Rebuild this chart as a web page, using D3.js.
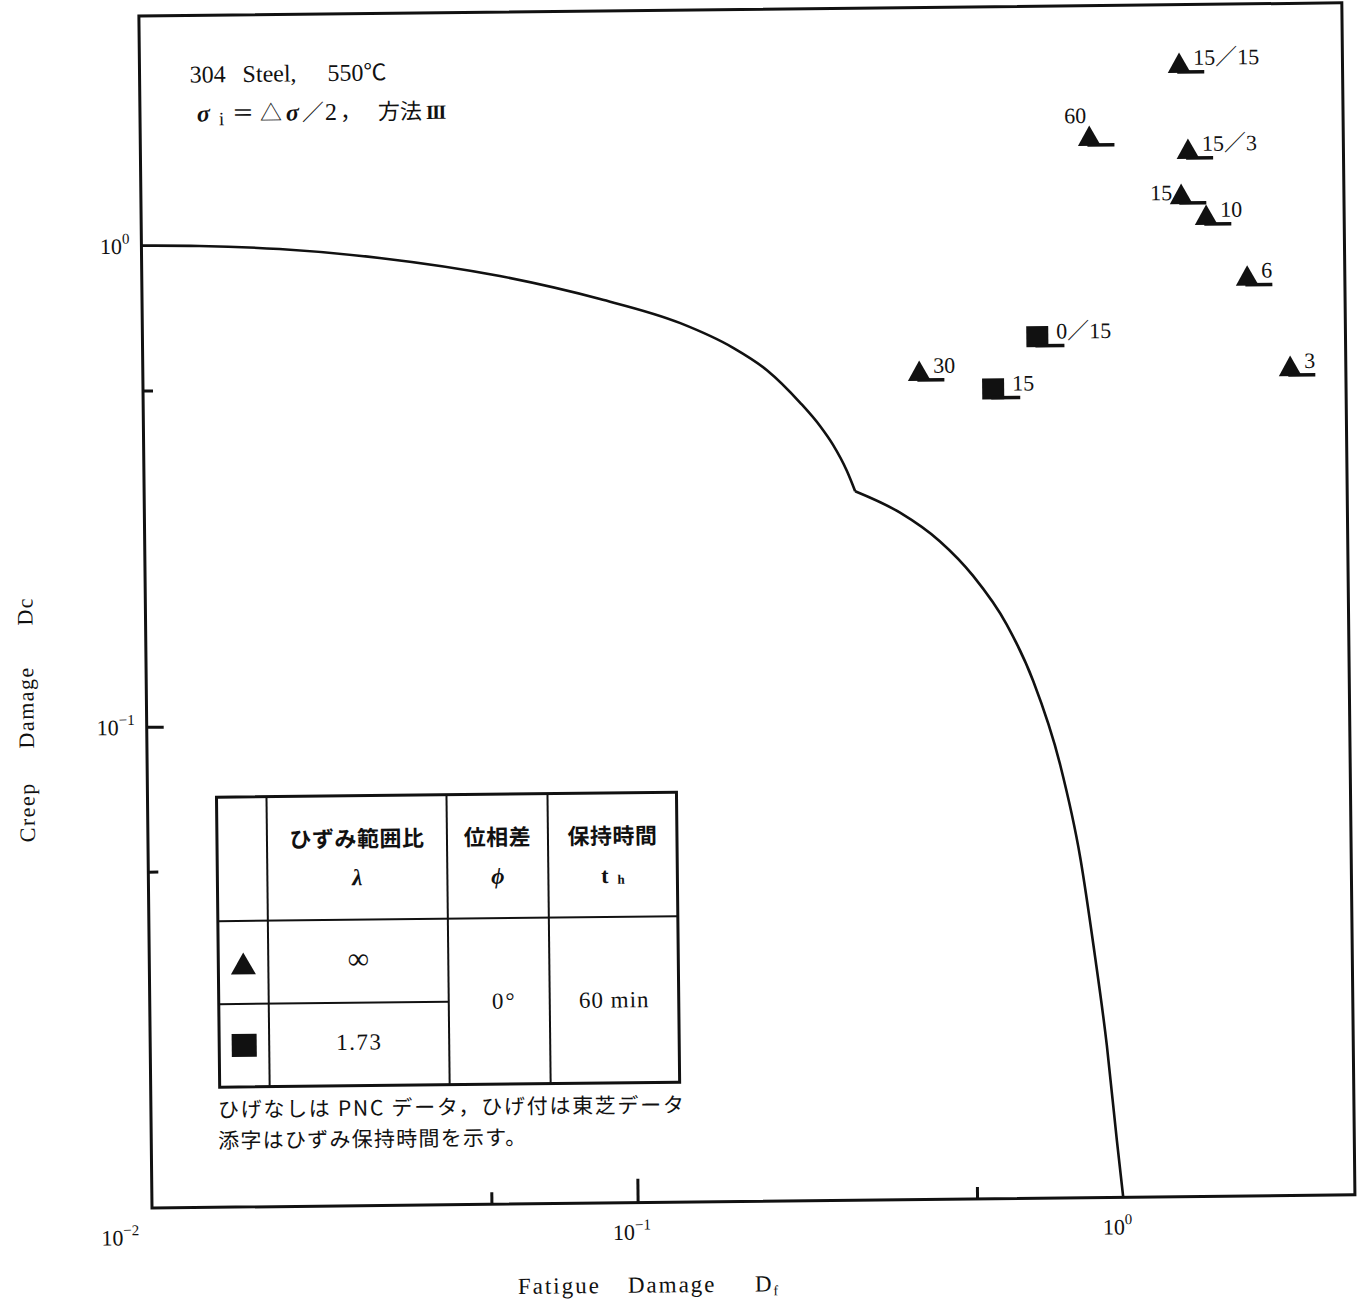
<!DOCTYPE html>
<html>
<head>
<meta charset="utf-8">
<script src="https://cdn.jsdelivr.net/npm/d3@7"></script>
<style>
  body { margin: 0; background: #fff; }
  text { fill: #111; }
</style>
</head>
<body>
<svg id="chart" width="1362" height="1310"></svg>
<script>
// Creep–fatigue damage interaction, 304 steel at 550 °C (log–log)

// Test points: triangles (λ = ∞) and squares (λ = 1.73); label = strain hold time
const triangleLabels  = ["15／15", "60", "15／3", "15", "10", "6", "30", "3"];
const triangleFatigue = [1.383, 0.90, 1.436, 1.387, 1.56, 1.889, 0.397, 2.305];
const triangleCreep   = [2.27, 1.608, 1.503, 1.212, 1.095, 0.817, 0.527, 0.529];
const triangleLabelSide = ["right", "above-left", "right", "left", "right", "right", "right", "right"];

const squareLabels  = ["0／15", "15"];
const squareFatigue = [0.696, 0.563];
const squareCreep   = [0.617, 0.482];
const squareLabelSide = ["right", "right"];

// Design envelope, upper branch (to the knee) and lower branch (from the knee)
const envelopeUpperFatigue = [0.01, 0.01316, 0.01924, 0.03091, 0.05461, 0.08773, 0.1282, 0.1641, 0.1928, 0.2254, 0.2477, 0.2624, 0.2804, 0.2911];
const envelopeUpperCreep   = [1.0, 0.9956, 0.9768, 0.9312, 0.8485, 0.7561, 0.6709, 0.5953, 0.5333, 0.4554, 0.4061, 0.3725, 0.3273, 0.2974];
const envelopeLowerFatigue = [0.2911, 0.3597, 0.4336, 0.5070, 0.5931, 0.6707, 0.7587, 0.8303, 0.8831, 0.9326, 0.9734, 1.0];
const envelopeLowerCreep   = [0.2974, 0.2678, 0.2331, 0.1971, 0.1559, 0.1187, 0.0794, 0.0509, 0.0325, 0.0207, 0.0131, 0.01];

// Axes
const axisDomain = [0.01, 3];
const xMajorTicks = [0.1];
const xMinorTicks = [0.05, 0.5];
const yMajorTicks = [0.1];
const yMinorTicks = [0.05, 0.5];
const xTickValues = [0.01, 0.1, 1];
const xTickBase = ["10", "10", "10"];
const xTickExp  = ["−2", "−1", "0"];
const yTickValues = [1, 0.1];
const yTickBase = ["10", "10"];
const yTickExp  = ["0", "−1"];

// Legend table rows
const legendHeader1 = ["ひずみ範囲比", "位相差", "保持時間"];
const legendRatios = ["∞", "1.73"];
const legendPhase = "0°";
const legendHold = "60 min";

const SERIF = "'Liberation Serif', 'Times New Roman', 'Noto Sans CJK JP', serif";
const CJK = "'Noto Sans CJK JP', 'Liberation Serif', sans-serif";

const box = { left: 152, right: 1355, top: 16, bottom: 1208 };

const x = d3.scaleLog().domain(axisDomain).range([box.left, box.right]);
const y = d3.scaleLog().domain(axisDomain).range([box.bottom, box.top]);

const svg = d3.select("#chart");
// the whole sheet sits at a slight tilt
const root = svg.append("g").attr("transform", `rotate(-0.63, ${box.left}, ${box.bottom})`);

// Frame
root.append("rect")
  .attr("x", box.left).attr("y", box.top)
  .attr("width", box.right - box.left).attr("height", box.bottom - box.top)
  .attr("fill", "none").attr("stroke", "#111").attr("stroke-width", 3);

// Inward ticks
function tickGroup(axis, transform, width) {
  const g = root.append("g").attr("transform", transform).call(axis);
  g.select(".domain").remove();
  g.selectAll(".tick line").attr("stroke", "#111").attr("stroke-width", width);
  g.selectAll(".tick text").remove();
  return g;
}
tickGroup(d3.axisBottom(x).tickValues(xMajorTicks).tickSize(-24), `translate(0,${box.bottom})`, 3);
tickGroup(d3.axisBottom(x).tickValues(xMinorTicks).tickSize(-12), `translate(0,${box.bottom})`, 3);
tickGroup(d3.axisLeft(y).tickValues(yMajorTicks).tickSize(-17), `translate(${box.left},0)`, 3);
tickGroup(d3.axisLeft(y).tickValues(yMinorTicks).tickSize(-10), `translate(${box.left},0)`, 3);

// Tick labels with exponents
function powerLabel(sel, base, exp) {
  sel.append("tspan").text(base);
  sel.append("tspan").attr("font-size", 15).attr("dy", -10).text(exp);
}
xTickValues.forEach((v, i) => {
  const shift = v === axisDomain[0] ? -32 : -6;
  const t = root.append("text")
    .attr("x", x(v) + shift).attr("y", 1245)
    .attr("text-anchor", "middle")
    .attr("font-family", SERIF).attr("font-size", 22);
  powerLabel(t, xTickBase[i], xTickExp[i]);
});
yTickValues.forEach((v, i) => {
  const t = root.append("text")
    .attr("x", box.left - 12).attr("y", y(v) + 8)
    .attr("text-anchor", "end")
    .attr("font-family", SERIF).attr("font-size", 22);
  powerLabel(t, yTickBase[i], yTickExp[i]);
});

// Axis titles
const xt = root.append("text").attr("y", 1298)
  .attr("font-family", SERIF).attr("font-size", 23).attr("letter-spacing", 2);
xt.append("tspan").attr("x", 517).text("Fatigue");
xt.append("tspan").attr("x", 627).text("Damage");
xt.append("tspan").attr("x", 754).text("D");
xt.append("tspan").attr("font-size", 14).attr("dy", 4).text("f");

[["Creep", 811], ["Damage", 706], ["Dc", 610]].forEach(([s, cy]) => {
  root.append("text")
    .attr("transform", `translate(39,${cy}) rotate(-90)`)
    .attr("text-anchor", "middle")
    .attr("font-family", SERIF).attr("font-size", 22).attr("letter-spacing", 1.5)
    .text(s);
});

// Envelope
const line = d3.line()
  .x(d => x(d[0])).y(d => y(d[1]))
  .curve(d3.curveMonotoneX);
[[envelopeUpperFatigue, envelopeUpperCreep], [envelopeLowerFatigue, envelopeLowerCreep]].forEach(([fx, cy]) => {
  root.append("path")
    .datum(fx.map((v, i) => [v, cy[i]]))
    .attr("d", line)
    .attr("fill", "none").attr("stroke", "#111").attr("stroke-width", 2.6)
    .attr("stroke-linejoin", "miter");
});

// Markers with whiskers (Toshiba data)
const triPath = "M0,-10.5L11.5,10L-11.5,10Z";
function drawPoints(fat, creep, labels, sides, kind) {
  const pts = fat.map((v, i) => ({ fx: v, cr: creep[i], label: labels[i], side: sides[i] }));
  const g = root.append("g").selectAll("g").data(pts).join("g")
    .attr("transform", d => `translate(${x(d.fx)},${y(d.cr)})`);
  if (kind === "tri") {
    g.append("path").attr("d", triPath).attr("fill", "#111");
  } else {
    g.append("rect").attr("x", -11).attr("y", -10.5).attr("width", 22).attr("height", 21).attr("fill", "#111");
  }
  g.append("line")
    .attr("x1", -2).attr("x2", kind === "tri" ? 25 : 27)
    .attr("y1", 9).attr("y2", 9)
    .attr("stroke", "#111").attr("stroke-width", 3.5);
  g.append("text")
    .attr("font-family", SERIF).attr("font-size", 22)
    .attr("text-anchor", d => d.side === "right" ? "start" : "end")
    .attr("x", d => d.side === "right" ? (kind === "tri" ? 14 : 19) : d.side === "left" ? -9 : -3)
    .attr("y", d => d.side === "right" ? 2 : d.side === "left" ? 6 : -13)
    .text(d => d.label);
}
drawPoints(triangleFatigue, triangleCreep, triangleLabels, triangleLabelSide, "tri");
drawPoints(squareFatigue, squareCreep, squareLabels, squareLabelSide, "sq");

// Title notes
const t1 = root.append("text").attr("y", 83)
  .attr("font-family", SERIF).attr("font-size", 24);
t1.append("tspan").attr("x", 202).text("304");
t1.append("tspan").attr("x", 255).text("Steel,");
t1.append("tspan").attr("x", 340).text("550");
t1.append("tspan").attr("font-family", CJK).attr("font-size", 23).text("℃");

const t2 = root.append("text").attr("y", 122)
  .attr("font-family", SERIF).attr("font-size", 24);
t2.append("tspan").attr("x", 209).attr("font-style", "italic").attr("font-weight", "bold").text("σ");
t2.append("tspan").attr("x", 231).attr("dy", 4).attr("font-size", 19).text("i");
t2.append("tspan").attr("x", 244).attr("dy", -4).attr("font-family", CJK).attr("font-size", 22).text("＝");
t2.append("tspan").attr("x", 272).attr("font-family", CJK).attr("font-size", 22).text("△");
t2.append("tspan").attr("x", 298).attr("font-style", "italic").attr("font-weight", "bold").text("σ");
t2.append("tspan").attr("x", 314).attr("font-family", CJK).attr("font-size", 22).text("／");
t2.append("tspan").attr("x", 337).text("2");
t2.append("tspan").attr("x", 352).attr("font-family", CJK).attr("font-size", 22).text("，");
t2.append("tspan").attr("x", 390).attr("font-family", CJK).attr("font-size", 22).text("方法");
t2.append("tspan").attr("x", 438).attr("font-family", SERIF).attr("font-weight", "bold").attr("font-size", 20).attr("letter-spacing", -1.5).text("III");

// Legend table
const tbl = { left: 221, right: 681, top: 798, bottom: 1088, c1: 271, c2: 451, c3: 552, hdr: 922, split: 1005 };
const tg = root.append("g").attr("stroke", "#111").attr("fill", "none");
tg.append("rect").attr("x", tbl.left).attr("y", tbl.top)
  .attr("width", tbl.right - tbl.left).attr("height", tbl.bottom - tbl.top).attr("stroke-width", 3);
[tbl.c1, tbl.c2, tbl.c3].forEach(cx => tg.append("line")
  .attr("x1", cx).attr("x2", cx).attr("y1", tbl.top).attr("y2", tbl.bottom).attr("stroke-width", 2));
tg.append("line").attr("x1", tbl.left).attr("x2", tbl.right).attr("y1", tbl.hdr).attr("y2", tbl.hdr).attr("stroke-width", 2);
tg.append("line").attr("x1", tbl.left).attr("x2", tbl.c2).attr("y1", tbl.split).attr("y2", tbl.split).attr("stroke-width", 2);

const colCenters = [(tbl.c1 + tbl.c2) / 2, (tbl.c2 + tbl.c3) / 2, (tbl.c3 + tbl.right) / 2];
legendHeader1.forEach((s, i) => {
  root.append("text")
    .attr("x", colCenters[i]).attr("y", 839)
    .attr("text-anchor", "middle").attr("dominant-baseline", "central")
    .attr("font-family", CJK).attr("font-weight", "bold").attr("font-size", 22).attr("letter-spacing", 0.5)
    .text(s);
});
root.append("text").attr("x", colCenters[0]).attr("y", 880)
  .attr("text-anchor", "middle").attr("dominant-baseline", "central")
  .attr("font-family", SERIF).attr("font-weight", "bold").attr("font-style", "italic").attr("font-size", 23)
  .text("λ");
root.append("text").attr("x", colCenters[1]).attr("y", 880)
  .attr("text-anchor", "middle").attr("dominant-baseline", "central")
  .attr("font-family", SERIF).attr("font-weight", "bold").attr("font-style", "italic").attr("font-size", 23)
  .text("ϕ");
const th = root.append("text").attr("x", colCenters[2]).attr("y", 880)
  .attr("text-anchor", "middle").attr("dominant-baseline", "central")
  .attr("font-family", SERIF).attr("font-weight", "bold").attr("font-size", 22);
th.append("tspan").text("t");
th.append("tspan").attr("dx", 9).attr("dy", 4).attr("font-size", 13).text("h");

const rowCenters = [(tbl.hdr + tbl.split) / 2, (tbl.split + tbl.bottom) / 2];
root.append("path").attr("d", "M0,-11L12.5,11L-12.5,11Z").attr("fill", "#111")
  .attr("transform", `translate(${(tbl.left + tbl.c1) / 2},${rowCenters[0] + 1})`);
root.append("rect").attr("x", (tbl.left + tbl.c1) / 2 - 12.5).attr("y", rowCenters[1] - 11.5)
  .attr("width", 25).attr("height", 23).attr("fill", "#111");
root.append("text").attr("x", colCenters[0]).attr("y", rowCenters[0] - 3)
  .attr("text-anchor", "middle").attr("dominant-baseline", "central")
  .attr("font-family", SERIF).attr("font-size", 30).text(legendRatios[0]);
root.append("text").attr("x", colCenters[0]).attr("y", rowCenters[1] - 2)
  .attr("text-anchor", "middle").attr("dominant-baseline", "central")
  .attr("font-family", SERIF).attr("font-size", 23).attr("letter-spacing", 1.5).text(legendRatios[1]);
root.append("text").attr("x", colCenters[1] + 5).attr("y", (tbl.hdr + tbl.bottom) / 2)
  .attr("text-anchor", "middle").attr("dominant-baseline", "central")
  .attr("font-family", SERIF).attr("font-size", 23).attr("letter-spacing", 2).text(legendPhase);
root.append("text").attr("x", colCenters[2]).attr("y", (tbl.hdr + tbl.bottom) / 2)
  .attr("text-anchor", "middle").attr("dominant-baseline", "central")
  .attr("font-family", SERIF).attr("font-size", 23).attr("letter-spacing", 1).text(legendHold);

// Notes under the table
root.append("text").attr("x", 219).attr("y", 1118)
  .attr("font-family", CJK).attr("font-size", 21)
  .attr("textLength", 466).attr("lengthAdjust", "spacing")
  .text("ひげなしは PNC データ，ひげ付は東芝データ");
root.append("text").attr("x", 219).attr("y", 1149)
  .attr("font-family", CJK).attr("font-size", 21)
  .attr("textLength", 308).attr("lengthAdjust", "spacing")
  .text("添字はひずみ保持時間を示す。");
</script>
</body>
</html>
